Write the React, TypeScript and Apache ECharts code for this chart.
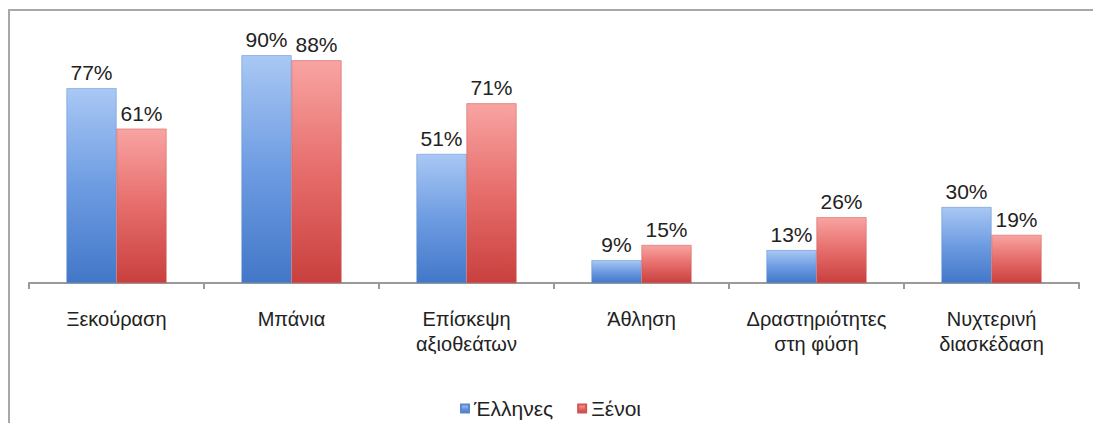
import React, { useEffect, useRef } from "react";
import * as echarts from "echarts";

const categories = [
  "Ξεκούραση",
  "Μπάνια",
  "Επίσκεψη\nαξιοθεάτων",
  "Άθληση",
  "Δραστηριότητες\nστη φύση",
  "Νυχτερινή\nδιασκέδαση",
];
const greeks = [77, 90, 51, 9, 13, 30];
const foreigners = [61, 88, 71, 15, 26, 19];
const seriesNames = ["Έλληνες", "Ξένοι"];

const FONT = "Liberation Sans, Arial, sans-serif";

const blue = new echarts.graphic.LinearGradient(0, 0, 0, 1, [
  { offset: 0, color: "#a9c8f4" },
  { offset: 0.5, color: "#6e9ce2" },
  { offset: 1, color: "#4277c8" },
]);
const red = new echarts.graphic.LinearGradient(0, 0, 0, 1, [
  { offset: 0, color: "#f8a4a2" },
  { offset: 0.5, color: "#e66d6b" },
  { offset: 1, color: "#c9403e" },
]);

export default function App() {
  const ref = useRef<HTMLDivElement>(null);
  useEffect(() => {
    document.body.style.margin = "0";
    const chart = echarts.init(ref.current!, null, { renderer: "svg" });
    const labelStyle = {
      show: true,
      position: "top" as const,
      distance: 5,
      formatter: "{c}%",
      fontSize: 21,
      fontFamily: FONT,
      color: "#222",
    };
    chart.setOption({
      animation: false,
      backgroundColor: "#ffffff",
      textStyle: { fontFamily: FONT },
      graphic: [
        {
          type: "rect",
          shape: { x: 9, y: 10, width: 1200, height: 500 },
          style: { fill: "none", stroke: "#a8a8a8", lineWidth: 2 },
          silent: true,
        },
      ],
      legend: {
        data: seriesNames,
        top: 393,
        left: 455,
        itemWidth: 8,
        itemHeight: 8,
        itemGap: 24,
        icon: "rect",
        textStyle: { fontSize: 21, color: "#222", fontFamily: FONT },
      },
      grid: { left: 29, right: 14, top: 30, bottom: 140, containLabel: false },
      xAxis: {
        type: "category",
        data: categories,
        axisLine: { lineStyle: { color: "#9a9a9a", width: 2 } },
        axisTick: { show: true, length: 6, lineStyle: { color: "#9a9a9a", width: 2 } },
        axisLabel: {
          fontSize: 20,
          color: "#222",
          margin: 23,
          lineHeight: 25,
          interval: 0,
          fontFamily: FONT,
        },
      },
      yAxis: {
        type: "value",
        min: 0,
        max: 100,
        show: false,
        splitLine: { show: false },
      },
      series: [
        {
          name: seriesNames[0],
          type: "bar",
          data: greeks,
          barWidth: 50,
          barGap: "0%",
          itemStyle: { color: blue, borderColor: "#5a88cf", borderWidth: 0.5 },
          label: labelStyle,
        },
        {
          name: seriesNames[1],
          type: "bar",
          data: foreigners,
          barWidth: 50,
          barGap: "0%",
          itemStyle: { color: red, borderColor: "#cf5553", borderWidth: 0.5 },
          label: labelStyle,
        },
      ],
    });
    return () => chart.dispose();
  }, []);
  return <div ref={ref} style={{ width: 1093, height: 423 }} />;
}
